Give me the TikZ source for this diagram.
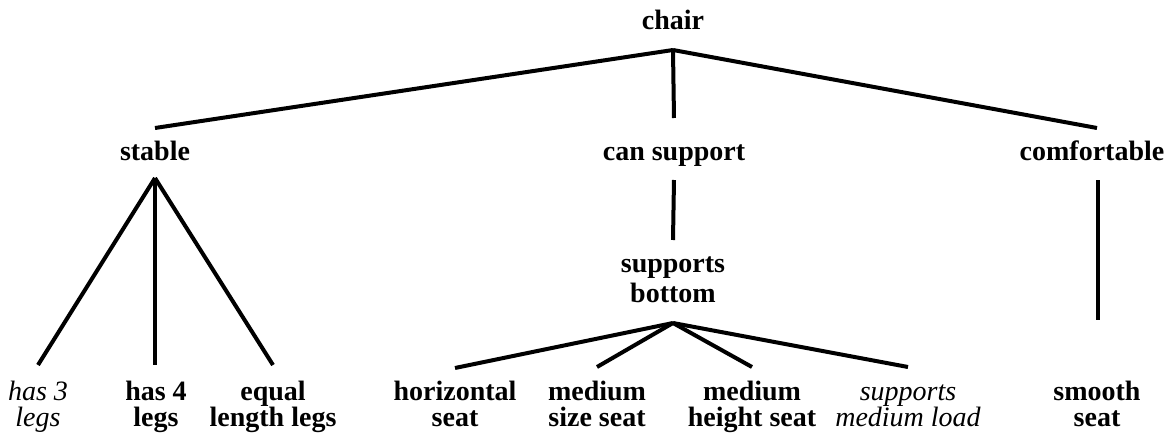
\documentclass[tikz,border=0pt]{standalone}
\usepackage{fontspec}
\setmainfont{Liberation Serif}
\begin{document}
\begin{tikzpicture}[x=0.5pt,y=-0.5pt,
  lbl/.style={font=\fontsize{14pt}{14pt}\selectfont\bfseries, inner sep=0pt, anchor=base, align=center},
  ital/.style={font=\fontsize{14pt}{14pt}\selectfont\itshape, inner sep=0pt, anchor=base, align=center},
  edge/.style={line width=2pt, line cap=butt, line join=miter}]
\useasboundingbox (0,0) rectangle (1175,439);

% labels (anchored at the baseline of their last line)
\node[lbl] (chair) at (673,30) {chair};
\node[lbl] (stable) at (155,160) {stable};
\node[lbl] (cansup) at (674,160) {can support};
\node[lbl] (comf) at (1092,160) {comfortable};
\node[lbl] (supbot) at (673,302) {supports\\[1pt]bottom};
\node[ital] (legs3) at (38,426) {has 3\\[-1pt]legs};
\node[lbl] (legs4) at (156,426) {has 4\\[-1pt]legs};
\node[lbl] (equal) at (273,426) {equal\\[-1pt]length legs};
\node[lbl] (horiz) at (455,426) {horizontal\\[-1pt]seat};
\node[lbl] (msize) at (597,426) {medium\\[-1pt]size seat};
\node[lbl] (mheight) at (752,426) {medium\\[-1pt]height seat};
\node[ital] (mload) at (908,426) {supports\\[-1pt]medium load};
\node[lbl] (smooth) at (1097,426) {smooth\\[-1pt]seat};

% branch points just below each parent label
\coordinate (chairJ) at ([yshift=-10pt]chair.base);
\coordinate (stableJ) at ([yshift=-9pt]stable.base);
\coordinate (supbotJ) at ([yshift=-10.5pt]supbot.base);
\coordinate (comfJ) at ([xshift=3pt,yshift=-10pt]comf.base);

% connectors
\draw[edge] (chairJ) -- ([yshift=16pt]stable.base);
\draw[edge] (chairJ) -- ([yshift=21pt]cansup.base);
\draw[edge] (chairJ) -- ([xshift=2.5pt,yshift=16pt]comf.base);
\draw[edge] ([yshift=-10pt]cansup.base) -- ([yshift=31pt]supbot.base);
\draw[edge] (comfJ) -- ([yshift=53pt]smooth.base -| comfJ);
\draw[edge] (stableJ) -- ([yshift=30.5pt]legs3.base);
\draw[edge] (stableJ) -- ([yshift=30.5pt]legs4.base -| stableJ);
\draw[edge] (stableJ) -- ([yshift=30.5pt]equal.base);
\draw[edge] (supbotJ) -- ([yshift=29pt]horiz.base);
\draw[edge] (supbotJ) -- ([yshift=29.5pt]msize.base);
\draw[edge] (supbotJ) -- ([yshift=29.5pt]mheight.base);
\draw[edge] (supbotJ) -- ([yshift=29.5pt]mload.base);
\end{tikzpicture}
\end{document}
